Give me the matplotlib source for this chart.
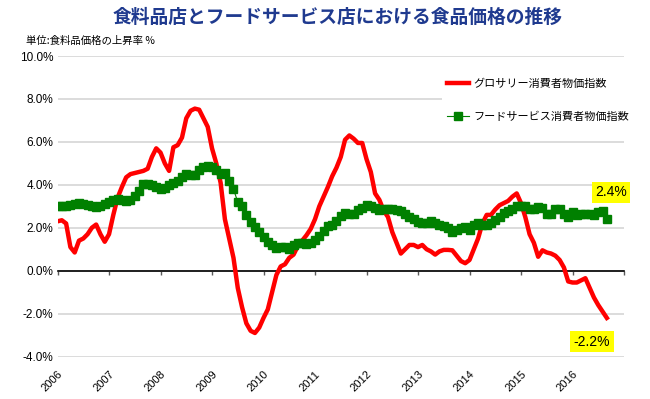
"""Grocery vs food-service CPI, year-over-year change (2006-2016)."""
import numpy as np
import matplotlib.pyplot as plt
from matplotlib.ticker import FuncFormatter, MultipleLocator

plt.rcParams['font.family'] = ['Noto Sans CJK JP', 'DejaVu Sans']

title = '食料品店とフードサービス店における食品価格の推移'
unit_note = '単位:食料品価格の上昇率 %'
label_grocery = 'グロサリー消費者物価指数'
label_service = 'フードサービス消費者物価指数'
years = ['2006', '2007', '2008', '2009', '2010', '2011',
         '2012', '2013', '2014', '2015', '2016']

# monthly values, Jan 2006 .. Sep 2016 (% change from a year earlier)
grocery = [
    2.3, 2.35, 2.2, 1.1, 0.85, 1.4, 1.5, 1.7, 2.0, 2.15, 1.7, 1.35,
    1.7, 2.6, 3.4, 3.9, 4.35, 4.5, 4.55, 4.6, 4.65, 4.75, 5.3, 5.7,
    5.5, 5.0, 4.65, 5.75, 5.85, 6.2, 7.1, 7.45, 7.55, 7.5, 7.1, 6.7,
    5.7, 5.0, 4.1, 2.4, 1.5, 0.6, -0.8, -1.7, -2.45, -2.8, -2.9, -2.65,
    -2.2, -1.8, -1.0, -0.2, 0.2, 0.3, 0.6, 0.75, 1.15, 1.4, 1.65, 1.95,
    2.4, 3.0, 3.45, 3.9, 4.4, 4.8, 5.3, 6.1, 6.3, 6.15, 5.95, 5.95,
    5.2, 4.6, 3.6, 3.3, 2.8, 2.5, 1.8, 1.3, 0.8, 1.0, 1.2, 1.2,
    1.1, 1.2, 1.0, 0.9, 0.75, 0.9, 0.97, 0.97, 0.95, 0.7, 0.45, 0.35,
    0.5, 1.0, 1.5, 2.2, 2.6, 2.6, 2.85, 3.05, 3.15, 3.25, 3.45, 3.6,
    3.15, 2.5, 1.7, 1.3, 0.65, 0.95, 0.85, 0.8, 0.7, 0.5, 0.15, -0.5,
    -0.55, -0.55, -0.45, -0.35, -0.8, -1.25, -1.6, -1.9, -2.2,
]
food_service = [
    3.0, 3.0, 3.0, 3.05, 3.1, 3.15, 3.1, 3.05, 3.0, 2.95, 3.0, 3.1,
    3.2, 3.3, 3.35, 3.3, 3.25, 3.3, 3.5, 3.7, 4.05, 4.05, 4.0, 3.9,
    3.8, 3.85, 4.0, 4.1, 4.2, 4.35, 4.5, 4.45, 4.45, 4.7, 4.85, 4.9,
    4.85, 4.7, 4.5, 4.55, 4.2, 3.8, 3.2, 3.0, 2.6, 2.25, 2.05, 1.8,
    1.56, 1.35, 1.2, 1.05, 1.1, 1.12, 1.02, 1.18, 1.3, 1.3, 1.25, 1.3,
    1.45, 1.6, 1.85, 2.1, 2.15, 2.3, 2.55, 2.68, 2.65, 2.65, 2.85, 2.93,
    3.05, 3.0, 2.93, 2.85, 2.86, 2.88, 2.88, 2.82, 2.77, 2.65, 2.5, 2.43,
    2.28, 2.22, 2.22, 2.3, 2.22, 2.15, 2.06, 1.98, 1.8, 1.88, 2.0, 2.02,
    1.88, 2.15, 2.2, 2.15, 2.15, 2.2, 2.35, 2.5, 2.68, 2.78, 2.88, 3.0,
    3.03, 3.0, 2.88, 2.88, 2.95, 2.93, 2.65, 2.65, 2.88, 2.88, 2.65, 2.5,
    2.72, 2.58, 2.65, 2.65, 2.65, 2.58, 2.72, 2.8, 2.4,
]

months = np.arange(len(grocery))

fig = plt.figure(figsize=(6.5, 3.99), dpi=100)
ax = fig.add_axes([0.0885, 0.1063, 0.8715, 0.7533])

ax.plot(months, grocery, color='#ff0000', lw=3.2, label=label_grocery,
        solid_joinstyle='round', zorder=3)
ax.plot(months, food_service, color='#008000', lw=0.8, marker='s', ms=5.2,
        label=label_service, zorder=4)

ax.set_xlim(0, 132)
ax.set_ylim(-4, 10)
ax.yaxis.set_major_locator(MultipleLocator(2))
ax.yaxis.set_major_formatter(FuncFormatter(lambda v, _: f'{v:.1f}%'))
ax.grid(axis='y', color='#d9d9d9', lw=1.3)
ax.set_axisbelow(True)
for side in ('left', 'right', 'top'):
    ax.spines[side].set_visible(False)
ax.spines['bottom'].set_position(('data', 0))
ax.spines['bottom'].set_linewidth(1.2)
ax.set_xticks(np.arange(0, 133, 12))
ax.tick_params(axis='x', length=3, width=1, color='#595959', labelbottom=False)
ax.tick_params(axis='y', length=0, pad=3)
for lab in ax.get_yticklabels():
    lab.set_fontfamily('Liberation Sans')
    lab.set_fontsize(8.5)

# year labels sit below the plot, not on the zero line
sec = ax.secondary_xaxis('bottom')
sec.set_xticks(np.arange(0, 12 * len(years), 12), years)
sec.tick_params(length=0, pad=9)
sec.spines['bottom'].set_visible(False)
plt.setp(sec.get_xticklabels(), rotation=45, ha='right', va='top',
         rotation_mode='anchor', fontsize=8, fontfamily='Liberation Sans')

box = dict(boxstyle='square,pad=0.25', fc='#ffff00', ec='none')
ax.text(months[-1] + 1, food_service[-1] + 1.25, f'{food_service[-1]:.1f}%',
        ha='center', va='center', fontsize=10, fontfamily='Liberation Sans', bbox=box)
ax.text(months[-1] - 3.5, grocery[-1] - 1.1, f'{grocery[-1]:.1f}%',
        ha='center', va='center', fontsize=10, fontfamily='Liberation Sans', bbox=box)

fig.legend(loc='upper left', bbox_to_anchor=(0.672, 0.827), fontsize=8,
           frameon=True, fancybox=False, edgecolor='none', facecolor='white',
           framealpha=1, handlelength=2.0, handletextpad=0.4,
           labelspacing=2.0, borderpad=0.4)

fig.text(0.52, 0.957, title, ha='center', va='center', fontsize=13.5,
         fontweight='bold', color='#1f3a8f')
fig.text(0.04, 0.897, unit_note, ha='left', va='center', fontsize=7.5)

fig.savefig('out.png', dpi=100)
